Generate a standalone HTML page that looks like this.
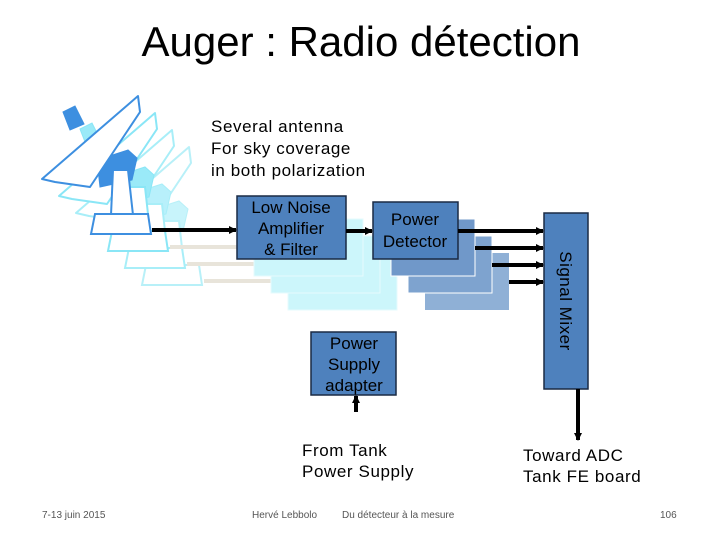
<!DOCTYPE html>
<html><head><meta charset="utf-8"><style>
body{margin:0;background:#fff;}
svg{display:block;font-family:"Liberation Sans",sans-serif;}
</style></head><body>
<svg width="720" height="540" viewBox="0 0 720 540" xmlns="http://www.w3.org/2000/svg">
<defs>
<marker id="ah" markerWidth="8" markerHeight="8" refX="7" refY="4" orient="auto" markerUnits="userSpaceOnUse"><path d="M0,0 L8,4 L0,8 z" fill="#000"/></marker>
<g id="ant">
<path d="M63,112 L75,106 L84,124 L70,130 Z" stroke-width="1"/>
<path d="M97,160 L128,150 L137,158 L132,180 L100,187 Z" stroke-width="1"/>
<path d="M42,179 L138,96 L140,112 L90,187 L55,182 Z" fill="#fff" stroke-width="2" stroke-linejoin="round"/>
<path d="M113,170 L128,170 L133,215 L111,215 Z" fill="#fff" stroke-width="2"/>
<path d="M95,214 L148,214 L151,234 L91,234 Z" fill="#fff" stroke-width="2"/>
</g>
</defs>
<text x="361" y="56" text-anchor="middle" font-size="42" fill="#000">Auger : Radio détection</text>
<g stroke="#b8f0f8" fill="#c8f4fb"><use href="#ant" x="51" y="51"/></g>
<g stroke="#a8eef8" fill="#b8f0fb"><use href="#ant" x="34" y="34"/></g>
<g stroke="#8ae6f6" fill="#9aeaf8"><use href="#ant" x="17" y="17"/></g>
<g stroke="#3d8fe0" fill="#3d8fe0"><use href="#ant"/></g>
<g stroke="#e8e4da" stroke-width="4">
<line x1="170" y1="247" x2="254" y2="247"/><line x1="187" y1="264" x2="271" y2="264"/><line x1="204" y1="281" x2="288" y2="281"/>
</g>
<rect x="288" y="253" width="109" height="57" fill="#ccf6fb" stroke="#e6fbfd"/>
<rect x="271" y="236" width="109" height="57" fill="#ccf6fb" stroke="#e6fbfd"/>
<rect x="254" y="219" width="109" height="57" fill="#ccf6fb" stroke="#e6fbfd"/>
<rect x="425" y="253" width="84" height="57" fill="#8fb0d6"/>
<rect x="408" y="236" width="84" height="57" fill="#7ea3cf" stroke="#fff"/>
<rect x="391" y="219" width="84" height="57" fill="#7098c9" stroke="#fff"/>
<rect x="237" y="196" width="109" height="63" fill="#4e81bd" stroke="#1a2a44" stroke-width="1.5"/>
<text font-size="17" text-anchor="middle" fill="#000"><tspan x="291" y="213">Low Noise</tspan><tspan x="291" y="234">Amplifier</tspan><tspan x="291" y="255">&amp; Filter</tspan></text>
<rect x="373" y="202" width="85" height="57" fill="#4e81bd" stroke="#1a2a44" stroke-width="1.5"/>
<text font-size="17" text-anchor="middle"><tspan x="415" y="225">Power</tspan><tspan x="415" y="247">Detector</tspan></text>
<rect x="544" y="213" width="44" height="176" fill="#4e81bd" stroke="#1a2a44" stroke-width="1.5"/>
<text font-size="17" transform="translate(560,301) rotate(90)" text-anchor="middle" letter-spacing="0.5">Signal Mixer</text>
<rect x="311" y="332" width="85" height="63" fill="#4e81bd" stroke="#1a2a44" stroke-width="1.5"/>
<text font-size="17" text-anchor="middle"><tspan x="354" y="349">Power</tspan><tspan x="354" y="370">Supply</tspan><tspan x="354" y="391">adapter</tspan></text>
<g stroke="#000" stroke-width="4" marker-end="url(#ah)">
<line x1="152" y1="230" x2="236" y2="230"/>
<line x1="346" y1="231" x2="372" y2="231"/>
<line x1="458" y1="231" x2="543" y2="231"/>
<line x1="475" y1="248" x2="543" y2="248"/>
<line x1="492" y1="265" x2="543" y2="265"/>
<line x1="509" y1="282" x2="543" y2="282"/>
<line x1="578" y1="389" x2="578" y2="440"/>
<line x1="356" y1="412" x2="356" y2="396"/>
</g>
<g font-size="17" letter-spacing="0.6" fill="#000">
<text><tspan x="211" y="132">Several antenna</tspan><tspan x="211" y="154">For sky coverage</tspan><tspan x="211" y="176">in both polarization</tspan></text>
<text><tspan x="302" y="456">From Tank</tspan><tspan x="302" y="477">Power Supply</tspan></text>
<text><tspan x="523" y="461">Toward ADC</tspan><tspan x="523" y="482">Tank FE board</tspan></text>
</g>
<g font-size="10" fill="#555"><text x="42" y="518">7-13 juin 2015</text><text x="252" y="518">Hervé Lebbolo</text><text x="342" y="518">Du détecteur à la mesure</text><text x="660" y="518">106</text></g>
</svg>
</body></html>
